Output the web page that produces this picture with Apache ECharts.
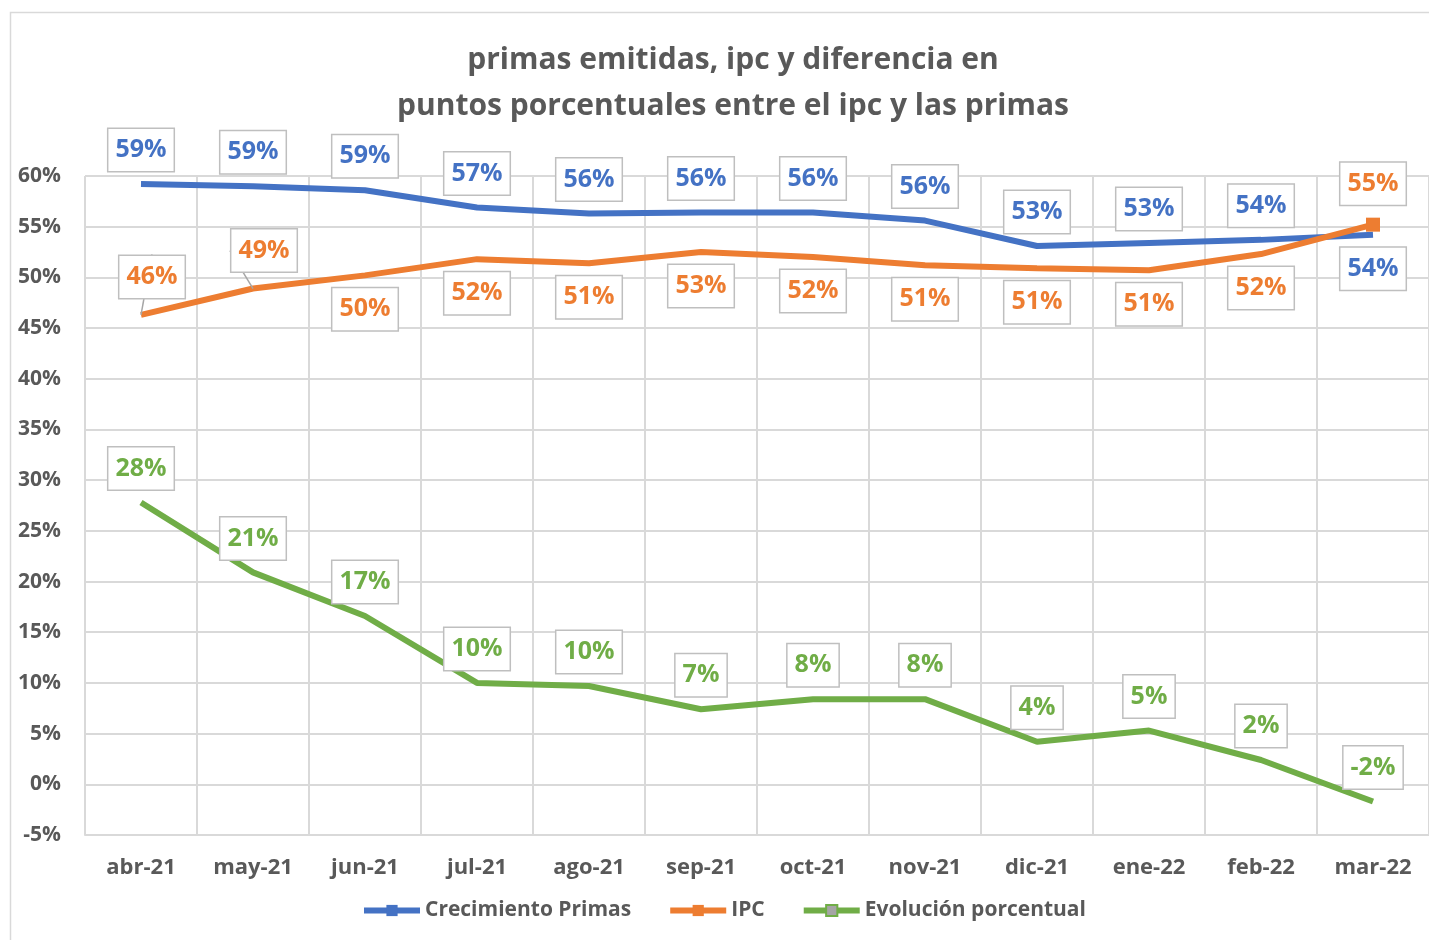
<!DOCTYPE html>
<html>
<head>
<meta charset="utf-8">
<title>primas emitidas, ipc y diferencia</title>
<script src="https://cdn.jsdelivr.net/npm/echarts@6/dist/echarts.min.js"></script>
<style>
  html, body { margin: 0; padding: 0; background: #fff; }
  #main { width: 1429px; height: 940px; }
</style>
</head>
<body>
<div id="main"></div>
<script>
// datos (en %)
var meses = ["abr-21", "may-21", "jun-21", "jul-21", "ago-21", "sep-21", "oct-21", "nov-21", "dic-21", "ene-22", "feb-22", "mar-22"];
var crecimientoPrimas = [59.2, 59.0, 58.6, 56.9, 56.3, 56.4, 56.4, 55.6, 53.1, 53.4, 53.7, 54.2];
var ipc = [46.3, 48.9, 50.2, 51.8, 51.4, 52.5, 52.0, 51.2, 50.9, 50.7, 52.3, 55.2];
var evolucion = [27.8, 20.9, 16.6, 10.0, 9.7, 7.4, 8.4, 8.4, 4.2, 5.3, 2.4, -1.7];

var FONT = "'Open Sans', 'DejaVu Sans', sans-serif";
var GRIS = "#595959";

function etiqueta(color) {
  return {
    show: true,
    position: "top",
    distance: 13,
    formatter: function (p) { return Math.round(p.value) + "%"; },
    color: color,
    fontFamily: FONT,
    fontWeight: "bold",
    fontSize: 25,
    lineHeight: 28,
    backgroundColor: "#fff",
    borderColor: "#bfbfbf",
    borderWidth: 1.5,
    padding: [7, 7]
  };
}

// algunos puntos llevan la etiqueta debajo, otros con linea guia
function puntos(valores, abajo, guia) {
  return valores.map(function (v, i) {
    var d = { value: v };
    if (abajo.indexOf(i) >= 0) d.label = { position: "bottom" };
    if (guia && guia.indexOf(i) >= 0) d.labelLine = { show: true };
    return d;
  });
}

var chart = echarts.init(document.getElementById("main"));

chart.setOption({
  animation: false,
  title: {
    text: "primas emitidas, ipc y diferencia en\npuntos porcentuales entre el ipc y las primas",
    left: 728,
    textAlign: "center",
    top: 32,
    textStyle: {
      color: GRIS,
      fontFamily: FONT,
      fontWeight: "bold",
      fontSize: 30,
      lineHeight: 46
    }
  },
  graphic: [{
    type: "rect",
    shape: { x: 10.5, y: 12.5, width: 1440, height: 940 },
    style: { fill: null, stroke: "#d9d9d9", lineWidth: 1.5 },
    silent: true,
    z: -10
  }],
  legend: {
    bottom: 14,
    left: 356,
    itemWidth: 56,
    itemHeight: 14,
    itemGap: 36,
    textStyle: { color: GRIS, fontFamily: FONT, fontWeight: "bold", fontSize: 21 },
    data: [
      { name: "Crecimiento Primas", lineStyle: { width: 6 } },
      { name: "IPC", lineStyle: { width: 6 } },
      { name: "Evolución porcentual", lineStyle: { width: 6 } }
    ]
  },
  grid: { left: 85, right: -4, top: 176, bottom: 105 },
  xAxis: {
    type: "category",
    data: meses,
    boundaryGap: true,
    axisLine: { onZero: false, lineStyle: { color: "#d9d9d9", width: 2 } },
    axisTick: { show: false },
    splitLine: { show: true, lineStyle: { color: "#d9d9d9", width: 2 } },
    axisLabel: { color: GRIS, fontFamily: FONT, fontWeight: "bold", fontSize: 22, margin: 22 }
  },
  yAxis: {
    type: "value",
    min: -5,
    max: 60,
    interval: 5,
    axisLine: { show: false },
    axisTick: { show: false },
    splitLine: { lineStyle: { color: "#d9d9d9", width: 2 } },
    axisLabel: { color: GRIS, fontFamily: FONT, fontWeight: "bold", fontSize: 21, margin: 24, formatter: "{value}%" }
  },
  series: [
    {
      name: "Crecimiento Primas",
      type: "line",
      data: puntos(crecimientoPrimas, [11]),
      symbol: "rect",
      symbolSize: 0,
      lineStyle: { color: "#4472c4", width: 6 },
      itemStyle: { color: "#4472c4" },
      label: etiqueta("#4472c4"),
      z: 3
    },
    {
      name: "IPC",
      type: "line",
      data: puntos(ipc, [2, 3, 4, 5, 6, 7, 8, 9, 10], [0, 1]),
      symbol: "rect",
      symbolSize: function (v, p) { return p.dataIndex === 11 ? 14 : 0; },
      lineStyle: { color: "#ed7d31", width: 6 },
      itemStyle: { color: "#ed7d31" },
      label: etiqueta("#ed7d31"),
      labelLine: { show: false, lineStyle: { color: "#a6a6a6", width: 1.5 } },
      labelLayout: function (p) {
        if (p.dataIndex === 0 || p.dataIndex === 1) return { dx: 11, dy: -4 };
        return {};
      },
      z: 4
    },
    {
      name: "Evolución porcentual",
      type: "line",
      data: puntos(evolucion, []),
      symbol: "rect",
      symbolSize: 0,
      lineStyle: { color: "#70ad47", width: 6 },
      itemStyle: { color: "#a5a5a5", borderColor: "#70ad47", borderWidth: 2 },
      label: etiqueta("#70ad47"),
      z: 3
    }
  ]
});
</script>
</body>
</html>
